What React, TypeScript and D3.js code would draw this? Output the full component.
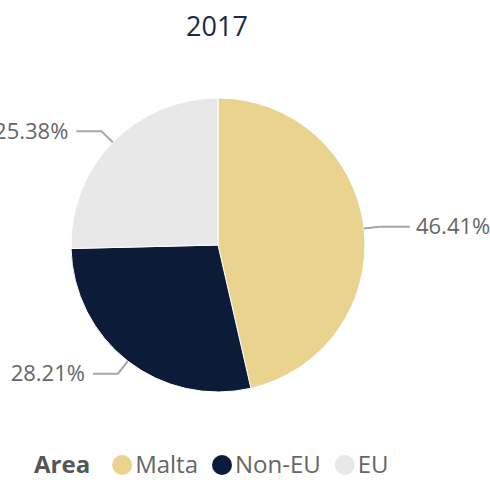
import React from 'react';
import * as d3 from 'd3';

const width = 490;
const height = 480;
const title = '2017';
const legendTitle = 'Area';

const areas = ['Malta', 'Non-EU', 'EU'];
const shares = [46.41, 28.21, 25.38];
const colors = ['#E9D38F', '#0C1C38', '#E8E8E8'];

const cx = 218;
const cy = 245;
const radius = 147;
const font = "'Open Sans', 'Noto Sans', sans-serif";

const measure = (text: string, size: number, weight = 'normal') => {
	const ctx = document.createElement('canvas').getContext('2d');
	if (!ctx) return text.length * size * 0.55;
	ctx.font = `${weight} ${size}px ${font}`;
	return ctx.measureText(text).width;
};

export default function App() {
	const data = areas.map((a, i) => ({ area: a, value: shares[i], color: colors[i] }));
	const pie = d3
		.pie<any>()
		.sort(null)
		.value(d => d.value);
	const arcs = pie(data);
	const arc = d3.arc<any>().innerRadius(0).outerRadius(radius);

	// leader lines
	const labels = arcs.map(a => {
		const mid = (a.startAngle + a.endAngle) / 2;
		const sx = Math.sin(mid);
		const sy = -Math.cos(mid);
		const p0 = [cx + sx * radius, cy + sy * radius];
		const p1 = [cx + sx * (radius + 16), cy + sy * (radius + 16)];
		const right = sx > 0;
		const p2 = [p1[0] + (right ? 30 : -25), p1[1]];
		return {
			points: [p0, p1, p2],
			x: p2[0] + (right ? 6 : -8),
			y: p2[1],
			anchor: right ? 'start' : 'end',
			text: d3.format('.2f')(a.data.value) + '%'
		};
	});

	// legend layout
	const legendSize = 24;
	let lx = 34;
	const titleW = measure(legendTitle, legendSize, 'bold');
	lx += titleW + 22;
	const legendItems = data.map(d => {
		const item = { ...d, cx: lx + 10, tx: lx + 23 };
		lx += 23 + measure(d.area, legendSize) + 14;
		return item;
	});

	const line = d3.line();

	return (
		<svg width={width} height={height} style={{ position: 'absolute', left: 0, top: 0 }} fontFamily={font}>
			<text x={217} y={36} textAnchor="middle" fontSize={27} fill="#1C2A48">
				{title}
			</text>
			<g>
				{arcs.map((a, i) => (
					<path
						key={i}
						d={arc(a) || ''}
						transform={`translate(${cx},${cy})`}
						fill={a.data.color}
						stroke="#fff"
						strokeWidth={1}
					/>
				))}
			</g>
			<g>
				{labels.map((l, i) => (
					<g key={i}>
						<path d={line(l.points as any) || ''} fill="none" stroke="#A6A6A6" strokeWidth={2} />
						<text x={l.x} y={l.y} dy="0.35em" textAnchor={l.anchor as any} fontSize={22} fill="#666">
							{l.text}
						</text>
					</g>
				))}
			</g>
			<g>
				<text x={34} y={465} dy="0.35em" fontSize={legendSize} fontWeight="bold" fill="#555">
					{legendTitle}
				</text>
				{legendItems.map((d, i) => (
					<g key={i}>
						<circle cx={d.cx} cy={465} r={10} fill={d.color} />
						<text x={d.tx} y={465} dy="0.35em" fontSize={legendSize} fill="#666">
							{d.area}
						</text>
					</g>
				))}
			</g>
		</svg>
	);
}
